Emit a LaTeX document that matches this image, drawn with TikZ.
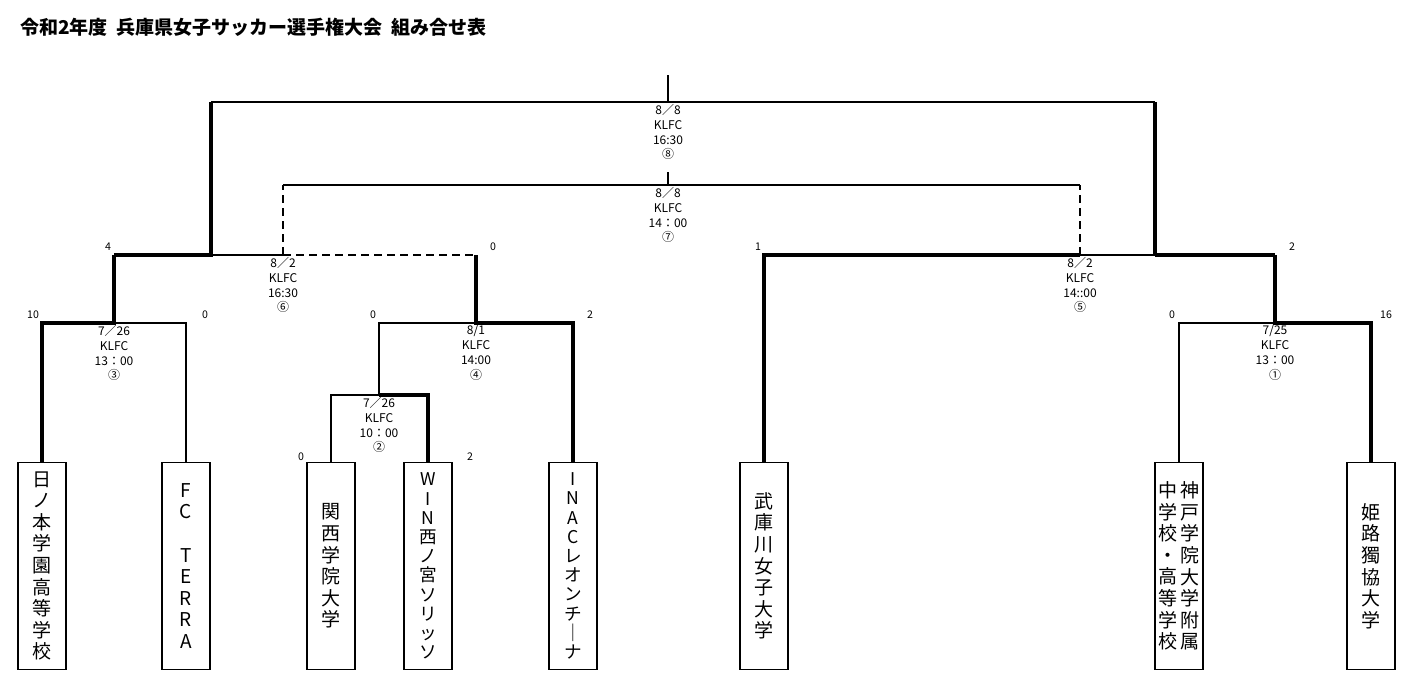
\documentclass[tikz,border=0pt]{standalone}
\usepackage{fontspec}
\setmainfont{Noto Sans CJK JP}
\begin{document}
\begin{tikzpicture}[x=0.5pt,y=-0.5pt,
  team/.style={draw,line width=0.8pt,minimum width=24pt,minimum height=103.5pt,inner sep=0pt,align=center,font=\fontsize{9.5}{10.8}\selectfont},
  tight/.style={font=\fontsize{8.8}{9.6}\selectfont},
  thk/.style={line width=2pt},
  thn/.style={line width=0.8pt},
  dsh/.style={line width=1pt,dash pattern=on 4pt off 2.5pt},
  lab/.style={anchor=north,align=center,inner sep=0pt,font=\fontsize{6}{7.4}\selectfont},
  sc/.style={anchor=south,inner sep=1pt,font=\fontsize{5.3}{6}\selectfont}]
\useasboundingbox (0,0) rectangle (1423,694);
\node[anchor=west,inner sep=0pt,font=\fontsize{9.5}{11}\selectfont\bfseries] (title) at (20,27) {令和2年度\ \ 兵庫県女子サッカー選手権大会\ \ 組み合せ表};
% teams
\node[team] (t1) at (42,566) {日\\ノ\\本\\学\\園\\高\\等\\学\\校};
\node[team] (t2) at (186,566) {F\\C\\\ \\T\\E\\R\\R\\A};
\node[team] (t3) at (331,566) {関\\西\\学\\院\\大\\学};
\node[team,tight] (t4) at (428,566) {W\\I\\N\\西\\ノ\\宮\\ソ\\リ\\ッ\\ソ};
\node[team,tight] (t5) at (573,566) {I\\N\\A\\C\\レ\\オ\\ン\\チ\\｜\\ナ};
\node[team] (t6) at (764,566) {武\\庫\\川\\女\\子\\大\\学};
\node[team] (t7) at (1179,566) {};
\node[inner sep=0pt,align=center,font=\fontsize{9.5}{10.8}\selectfont] (t7b) at (1190,566) {神\\戸\\学\\院\\大\\学\\附\\属};
\node[inner sep=0pt,align=center,font=\fontsize{9.5}{10.8}\selectfont] (t7a) at (1168,566) {中\\学\\校\\・\\高\\等\\学\\校};
\node[team] (t8) at (1371,566) {姫\\路\\獨\\協\\大\\学};
% coordinates
\coordinate (m3l) at (42,323); \coordinate (m3r) at (186,323); \coordinate (m3c) at (114,323);
\coordinate (m2l) at (331,395); \coordinate (m2r) at (428,395); \coordinate (m2c) at (379,395);
\coordinate (m4l) at (379,323); \coordinate (m4r) at (573,323); \coordinate (m4c) at (476,323);
\coordinate (m1l) at (1179,323); \coordinate (m1r) at (1371,323); \coordinate (m1c) at (1275,323);
\coordinate (m6l) at (114,255); \coordinate (m6w) at (211,255); \coordinate (m6d) at (283,255); \coordinate (m6r) at (476,255);
\coordinate (m5l) at (764,255); \coordinate (m5d) at (1080,255); \coordinate (m5w) at (1155,255); \coordinate (m5r) at (1275,255);
\coordinate (f8l) at (211,102); \coordinate (f8r) at (1155,102); \coordinate (f8c) at (668,102); \coordinate (f8t) at (668,75);
\coordinate (f7l) at (283,185); \coordinate (f7r) at (1080,185); \coordinate (f7c) at (668,185); \coordinate (f7t) at (668,172);
% match 3
\draw[thk] (t1.north) -- (m3l) -- (m3c) -- (m6l);
\draw[thn] (t2.north) -- (m3r) -- (m3c);
% match 2
\draw[thn] (t3.north) -- (m2l) -- (m2c);
\draw[thk] (t4.north) -- (m2r) -- (m2c);
\draw[thn] (m2c) -- (m4l) -- (m4c);
% match 4
\draw[thk] (t5.north) -- (m4r) -- (m4c) -- (m6r);
% match 1
\draw[thn] (t7.north) -- (m1l) -- (m1c);
\draw[thk] (t8.north) -- (m1r) -- (m1c) -- (m5r);
% match 6
\draw[thk] (m6l) -- (m6w) -- (f8l);
\draw[thn] (m6w) -- (m6d);
\draw[dsh] (m6d) -- (m6r);
\draw[dsh] (m6d) -- (f7l);
% match 5
\draw[thk] (t6.north) -- (m5l) -- (m5d);
\draw[thn] (m5d) -- (m5w);
\draw[thk] (m5w) -- (m5r);
\draw[thk] (m5w) -- (f8r);
\draw[dsh] (m5d) -- (f7r);
% final & 3rd
\draw[line width=1.3pt] (f8l) -- (f8r);
\draw[thn] (f8c) -- (f8t);
\draw[thn] (f7l) -- (f7r);
\draw[thn] (f7c) -- (f7t);
% labels
\node[lab] (l8) at (668,104) {8／8\\KLFC\\16:30\\⑧};
\node[lab] (l7) at (668,187) {8／8\\KLFC\\14：00\\⑦};
\node[lab] (l6) at (283,257) {8／2\\KLFC\\16:30\\⑥};
\node[lab] (l5) at (1080,257) {8／2\\KLFC\\14::00\\⑤};
\node[lab] (l3) at (114,325) {7／26\\KLFC\\13：00\\③};
\node[lab] (l4) at (476,325) {8/1\\KLFC\\14:00\\④};
\node[lab] (l2) at (379,397) {7／26\\KLFC\\10：00\\②};
\node[lab] (l1) at (1275,325) {7/25\\KLFC\\13：00\\①};
% scores
\node[sc] (s1) at (33,321) {10};
\node[sc] (s2) at (205,321) {0};
\node[sc] (s3) at (108,253) {4};
\node[sc] (s4) at (493,253) {0};
\node[sc] (s5) at (373,321) {0};
\node[sc] (s6) at (590,321) {2};
\node[sc] (s7) at (301,463) {0};
\node[sc] (s8) at (470,463) {2};
\node[sc] (s9) at (758,253) {1};
\node[sc] (s10) at (1292,253) {2};
\node[sc] (s11) at (1172,321) {0};
\node[sc] (s12) at (1386,321) {16};
\end{tikzpicture}
\end{document}
